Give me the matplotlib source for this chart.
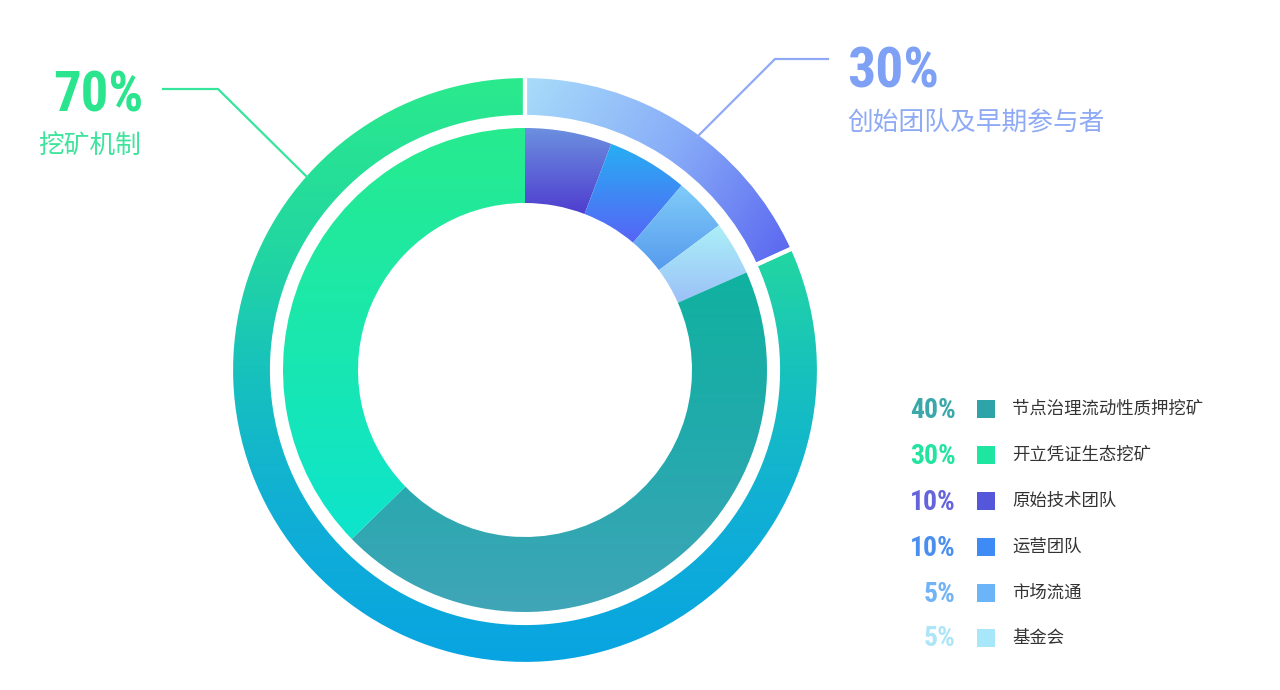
import numpy as np
import matplotlib
matplotlib.use("Agg")
import matplotlib.pyplot as plt
from matplotlib import font_manager
from matplotlib.colors import to_rgb
from matplotlib.patches import Rectangle

# outer ring (share of the circle, as drawn)
outer_names = ["创始团队及早期参与者", "挖矿机制"]
outer_labels = ["30%", "70%"]
outer_sizes = [18.2, 81.8]

# inner ring, clockwise from 12 o'clock (as drawn)
inner_names = ["原始技术团队", "运营团队", "市场流通", "基金会",
               "节点治理流动性质押挖矿", "开立凭证生态挖矿"]
inner_sizes = [5.8, 5.4, 3.6, 3.6, 44.3, 37.3]

# legend rows
legend_pcts = ["40%", "30%", "10%", "10%", "5%", "5%"]
legend_names = ["节点治理流动性质押挖矿", "开立凭证生态挖矿", "原始技术团队",
                "运营团队", "市场流通", "基金会"]
legend_text_colors = ["#3aa8aa", "#22e3a0", "#6464dd", "#4a8ff0", "#72b3f5", "#ade5f8"]
legend_box_colors = ["#2fa4a8", "#1ee6a0", "#5557da", "#3e8bf5", "#6ab4f7", "#a8e6fa"]

W, H = 1280, 690
CX, CY = 525, H - 370

installed = {f.name for f in font_manager.fontManager.ttflist}
narrow = [f for f in ["Roboto Condensed", "Liberation Sans Narrow", "DejaVu Sans Condensed"]
          if f in installed]
NUM_FONT = narrow + ["Roboto", "DejaVu Sans"]
CJK_FONT = ["Noto Sans CJK SC", "DejaVu Sans"]


def py(y):
    # pixel row (from top) -> data y
    return H - y


def gradient_fill(ax, patch, p0, p1, stops):
    """fill patch with a linear gradient from p0 to p1 (pixel coords from top)"""
    xs = np.arange(W) + 0.5
    ys = np.arange(H) + 0.5
    X, Y = np.meshgrid(xs, ys)
    x0, y0 = p0[0], py(p0[1])
    x1, y1 = p1[0], py(p1[1])
    dx, dy = x1 - x0, y1 - y0
    t = ((X - x0) * dx + (Y - y0) * dy) / (dx * dx + dy * dy)
    t = np.clip(t, 0, 1)
    pos = [s[0] for s in stops]
    cols = np.array([to_rgb(s[1]) for s in stops])
    img = np.dstack([np.interp(t, pos, cols[:, k]) for k in range(3)])
    im = ax.imshow(img, extent=(0, W, 0, H), origin="lower", zorder=2,
                   interpolation="nearest")
    im.set_clip_path(patch)
    return im


def fit_text(fig, t, width, max_size):
    # shrink a number label until it is no wider than the reference
    r = fig.canvas.get_renderer()
    t.set_fontsize(max_size)
    w = t.get_window_extent(r).width
    if w > width:
        t.set_fontsize(max_size * width / w)


fig = plt.figure(figsize=(12.8, 6.9), dpi=100)
ax = fig.add_axes([0, 0, 1, 1])

# outer ring
outer_wedges, _ = ax.pie(outer_sizes, radius=294, center=(CX, CY), startangle=90,
                         counterclock=False,
                         wedgeprops=dict(width=41, linewidth=3, edgecolor="white"))
outer_grads = [
    ((525, 80), (790, 258), [(0, "#a8dcfa"), (0.5, "#88adf8"), (1, "#5a66f0")]),
    ((525, 78), (525, 663), [(0, "#2aea8c"), (0.3, "#22d6a2"), (0.5, "#17c2bc"),
                             (0.72, "#11b0d4"), (1, "#08a4e2")]),
]
for w, (p0, p1, stops) in zip(outer_wedges, outer_grads):
    w.set_facecolor("none")
    w.set_zorder(3)
    gradient_fill(ax, w, p0, p1, stops)

# inner ring
inner_wedges, _ = ax.pie(inner_sizes, radius=242, center=(CX, CY), startangle=90,
                         counterclock=False,
                         wedgeprops=dict(width=75, linewidth=0))
inner_grads = [
    ((560, 128), (560, 213), [(0, "#6c90df"), (1, "#4f3ecf")]),
    ((600, 145), (600, 245), [(0, "#27aef3"), (1, "#5862f6")]),
    ((650, 185), (650, 268), [(0, "#80ccf8"), (1, "#579cee")]),
    ((700, 225), (700, 300), [(0, "#abf0f7"), (1, "#9cc2f8")]),
    ((600, 270), (600, 613), [(0, "#10b2a0"), (0.5, "#22aaac"), (1, "#40a5b8")]),
    ((400, 128), (400, 540), [(0, "#27eb8e"), (1, "#0de4cd")]),
]
for w, (p0, p1, stops) in zip(inner_wedges, inner_grads):
    w.set_facecolor("none")
    gradient_fill(ax, w, p0, p1, stops)

# leader lines
ax.plot([163, 218, 307], [py(89), py(89), py(177)], color="#35e59c", lw=1.6,
        solid_joinstyle="miter", zorder=4)
ax.plot([828, 775, 697], [py(59), py(59), py(137)], color="#90a9f5", lw=1.6,
        solid_joinstyle="miter", zorder=4)

# call-out texts
t70 = ax.text(143, py(111), outer_labels[1], ha="right", va="baseline",
              fontweight="bold", color="#2be48e", family=NUM_FONT)
fit_text(fig, t70, 90, 48)
ax.text(38, py(147), outer_names[1], ha="left", va="center", fontsize=18.5,
        color="#3fe39b", family=CJK_FONT)
t30 = ax.text(847, py(88), outer_labels[0], ha="left", va="baseline",
              fontweight="bold", color="#7ea1f5", family=NUM_FONT)
fit_text(fig, t30, 92, 46)
ax.text(847, py(123), outer_names[0], ha="left", va="center", fontsize=18.5,
        color="#8eaaf5", family=CJK_FONT)

# legend
row_y = [409, 455, 501, 547, 593, 638]
for pct, name, tc, bc, y in zip(legend_pcts, legend_names, legend_text_colors,
                                legend_box_colors, row_y):
    tp = ax.text(956, py(y) - 1, pct, ha="right", va="center",
                 fontweight="bold", color=tc, family=NUM_FONT)
    fit_text(fig, tp, 46 if len(pct) == 3 else 32, 20)
    ax.add_patch(Rectangle((977, py(y) - 9), 18, 18, facecolor=bc,
                           edgecolor="none"))
    ax.text(1012, py(y), name, ha="left", va="center", fontsize=12.5,
            color="#333333", family=CJK_FONT)

ax.set_xlim(0, W)
ax.set_ylim(0, H)
ax.set_aspect("equal")
ax.set_axis_off()

fig.savefig("out.png", dpi=100, facecolor="white")
